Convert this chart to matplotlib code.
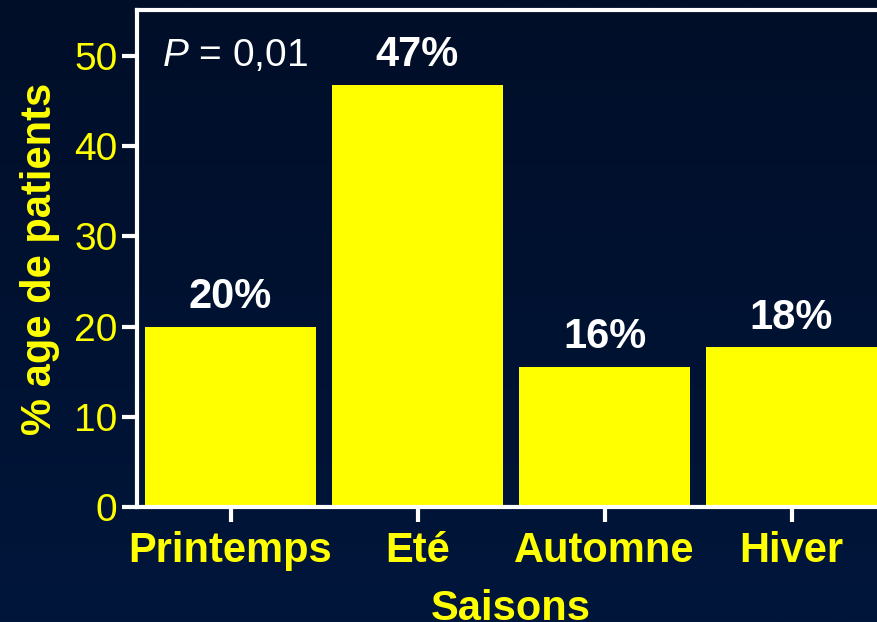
import matplotlib
matplotlib.use("Agg")
import matplotlib.pyplot as plt
import numpy as np
from matplotlib.colors import LinearSegmentedColormap

plt.rcParams["font.family"] = ["Liberation Sans", "DejaVu Sans"]
plt.rcParams["mathtext.fontset"] = "custom"
plt.rcParams["mathtext.rm"] = "Liberation Sans"
plt.rcParams["mathtext.it"] = "Liberation Sans:italic"

saisons = ["Printemps", "Eté", "Automne", "Hiver"]
pourcentages = [20.0, 46.8, 15.5, 17.7]
y_ticks = [0, 10, 20, 30, 40, 50]

jaune = "#ffff00"
blanc = "#ffffff"

fig = plt.figure(figsize=(8.77, 6.22), dpi=100)

# fond degrade bleu nuit
fond = fig.add_axes([0, 0, 1, 1], zorder=-1)
grad = np.linspace(0, 1, 256).reshape(-1, 1)
cmap = LinearSegmentedColormap.from_list("nuit", ["#000e28", "#00163b"])
fond.imshow(grad, aspect="auto", cmap=cmap, extent=[0, 1, 0, 1], origin="upper")
fond.axis("off")

ax = fig.add_axes([137 / 877, 115 / 622, 748 / 877, 497 / 622])
ax.patch.set_alpha(0)

x = np.arange(len(saisons))
ax.bar(x, pourcentages, width=0.91, color=jaune, zorder=2)

for xi, v in zip(x, pourcentages):
    ax.annotate(f"{v:.0f}%", (xi, v), xytext=(0, 7), textcoords="offset points",
                ha="center", va="bottom", color=blanc, fontsize=30, fontweight="bold")

ax.text(-0.365, 50, r"$P$ = 0,01", color=blanc, fontsize=28, va="center", ha="left")

ax.set_xlim(-0.5, 3.5)
ax.set_ylim(0, 55.1)
ax.set_yticks(y_ticks)
ax.set_xticks(x)
ax.set_xticklabels(saisons, fontsize=30, fontweight="bold", color=jaune)
ax.tick_params(axis="y", colors=blanc, labelcolor=jaune, labelsize=28, length=11,
               width=3, pad=3)
ax.tick_params(axis="x", colors=blanc, labelcolor=jaune, length=11, width=3, pad=6)

for cote in ["left", "top", "bottom"]:
    ax.spines[cote].set_color(blanc)
    ax.spines[cote].set_linewidth(3)
ax.spines["right"].set_visible(False)

ax.set_ylabel("% age de patients", fontsize=30, fontweight="bold", color=jaune, labelpad=10)
ax.set_xlabel("Saisons", fontsize=30, fontweight="bold", color=jaune, labelpad=13)

fig.savefig("out.png", dpi=100)
